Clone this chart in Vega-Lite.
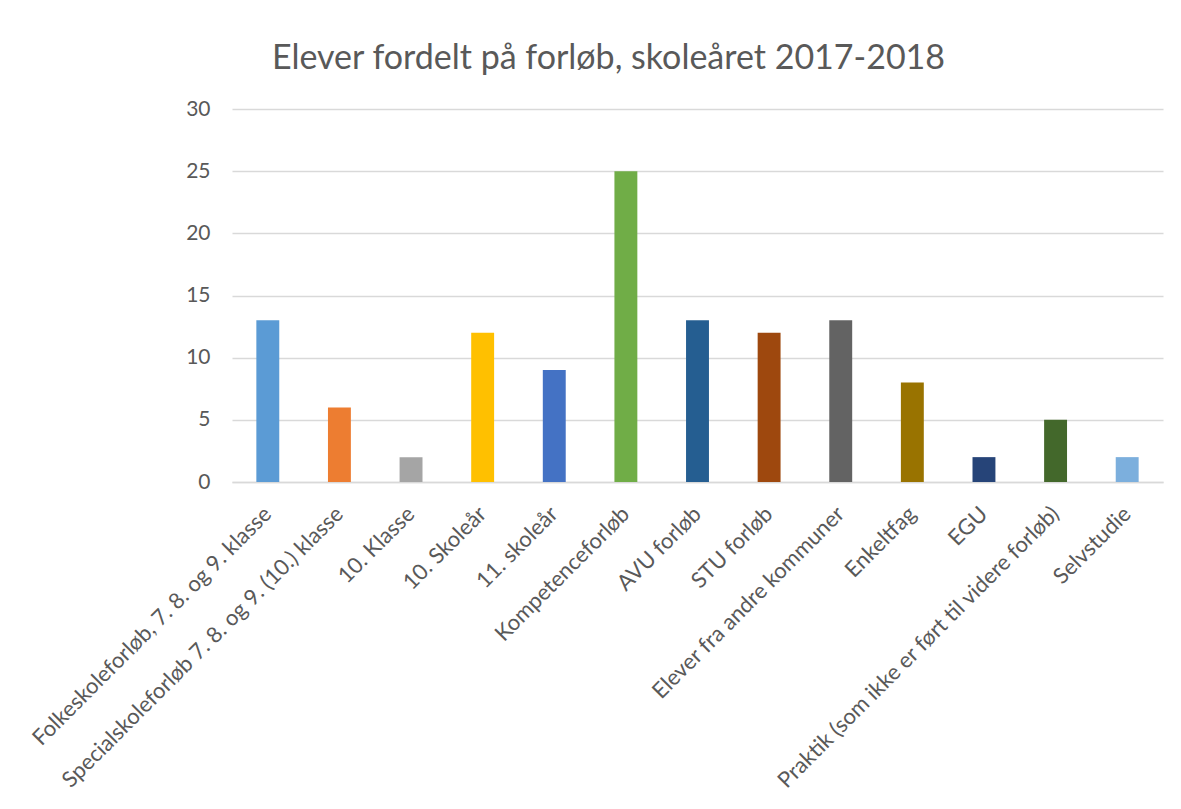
{
  "$schema": "https://vega.github.io/schema/vega-lite/v6.json",
  "autosize": "none",
  "width": 931,
  "height": 373,
  "padding": {"left": 232, "top": 109, "right": 18, "bottom": 327},
  "background": "white",
  "title": {
    "text": "Elever fordelt på forløb, skoleåret 2017-2018",
    "font": "Lato",
    "fontSize": 34,
    "fontWeight": "normal",
    "color": "#595959",
    "anchor": "middle",
    "dx": -89,
    "offset": 22
  },
  "data": {
    "values": [
      {"forloeb": "Folkeskoleforløb, 7. 8. og 9. klasse", "elever": 13},
      {"forloeb": "Specialskoleforløb 7. 8. og 9. (10.) klasse", "elever": 6},
      {"forloeb": "10. Klasse", "elever": 2},
      {"forloeb": "10. Skoleår", "elever": 12},
      {"forloeb": "11. skoleår", "elever": 9},
      {"forloeb": "Kompetenceforløb", "elever": 25},
      {"forloeb": "AVU forløb", "elever": 13},
      {"forloeb": "STU forløb", "elever": 12},
      {"forloeb": "Elever fra andre kommuner", "elever": 13},
      {"forloeb": "Enkeltfag", "elever": 8},
      {"forloeb": "EGU", "elever": 2},
      {"forloeb": "Praktik (som ikke er ført til videre forløb)", "elever": 5},
      {"forloeb": "Selvstudie", "elever": 2}
    ]
  },
  "mark": {"type": "bar"},
  "encoding": {
    "x": {
      "field": "forloeb",
      "type": "nominal",
      "sort": null,
      "scale": {"paddingInner": 0.68, "paddingOuter": 0.34},
      "axis": {
        "title": null,
        "labelAngle": -45,
        "labelAlign": "right",
        "labelBaseline": "middle",
        "labelPadding": 28,
        "ticks": false,
        "domainColor": "#d9d9d9",
        "domainWidth": 1.5,
        "labelFont": "Lato",
        "labelFontSize": 22,
        "labelColor": "#595959",
        "labelLimit": 600
      }
    },
    "y": {
      "field": "elever",
      "type": "quantitative",
      "scale": {"domain": [0, 30]},
      "axis": {
        "title": null,
        "values": [0, 5, 10, 15, 20, 25, 30],
        "ticks": false,
        "domain": false,
        "gridColor": "#d9d9d9",
        "gridWidth": 1.5,
        "labelPadding": 22,
        "labelFont": "Lato",
        "labelFontSize": 21,
        "labelColor": "#595959"
      }
    },
    "color": {
      "field": "forloeb",
      "type": "nominal",
      "sort": null,
      "scale": {"range": ["#5B9BD5", "#ED7D31", "#A5A5A5", "#FFC000", "#4472C4", "#70AD47", "#255E91", "#9E480E", "#636363", "#997300", "#264478", "#43682B", "#7CAFDD"]},
      "legend": null
    }
  },
  "config": {"view": {"stroke": null}}
}
